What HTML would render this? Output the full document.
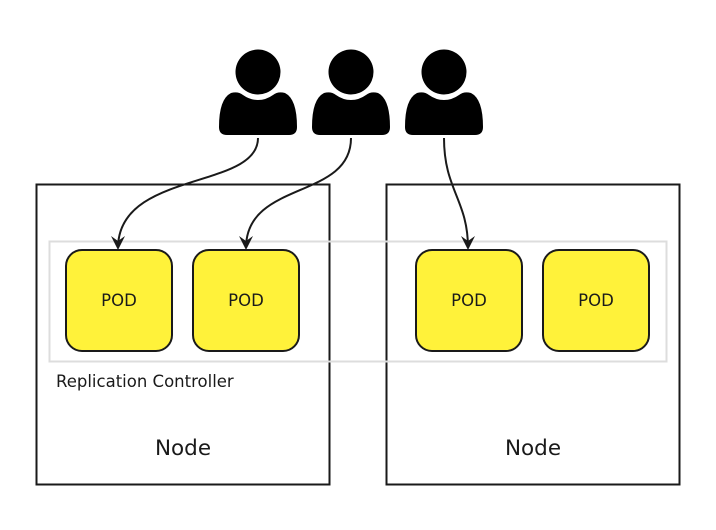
<!DOCTYPE html>
<html><head><style>body{margin:0;background:#fff}svg{display:block}</style></head><body>
<svg width="716" height="530" viewBox="0 0 716 530" xmlns="http://www.w3.org/2000/svg" font-family="DejaVu Sans, Liberation Sans, sans-serif">
<defs>
<g id="p">
<circle cx="0" cy="-5" r="22.5" fill="#000"/>
<path d="M-27,16 Q-20,14 -15,18 Q-8,23 0,23 Q8,23 15,18 Q20,14 27,16 Q39,22 39,50 Q39,58 31,58 L-31,58 Q-39,58 -39,50 Q-39,22 -27,16 Z" fill="#000"/>
</g>
<marker id="a" markerWidth="14" markerHeight="14" refX="12" refY="7" orient="auto" markerUnits="userSpaceOnUse" viewBox="0 0 14 14"><path d="M0,0 L5,7 L0,14 L14,7 Z" fill="#1a1a1a"/></marker>
</defs>
<rect x="36.5" y="184.5" width="293" height="300" fill="none" stroke="#1a1a1a" stroke-width="2"/>
<rect x="386.5" y="184.5" width="293" height="300" fill="none" stroke="#1a1a1a" stroke-width="2"/>
<rect x="49.5" y="241.5" width="617" height="120" fill="none" stroke="#ddd" stroke-width="2"/>
<g fill="#fff23a" stroke="#1a1a1a" stroke-width="2">
<rect x="66" y="250" width="106" height="101" rx="16"/>
<rect x="193" y="250" width="106" height="101" rx="16"/>
<rect x="416" y="250" width="106" height="101" rx="16"/>
<rect x="543" y="250" width="106" height="101" rx="16"/>
</g>
<g font-size="16.5" fill="#1a1a1a" text-anchor="middle">
<text x="119" y="306">POD</text><text x="246" y="306">POD</text>
<text x="469" y="306">POD</text><text x="596" y="306">POD</text>
<text x="183" y="455" font-size="21.5">Node</text><text x="533" y="455" font-size="21.5">Node</text>
<text x="56" y="387" font-size="16.5" text-anchor="start">Replication Controller</text>
</g>
<use href="#p" x="258" y="77"/><use href="#p" x="351" y="77"/><use href="#p" x="444" y="77"/>
<g fill="none" stroke="#1a1a1a" stroke-width="2">
<path d="M258,138 C258,190 118,170 118,248" marker-end="url(#a)"/>
<path d="M351,138 C351,200 246,180 246,248" marker-end="url(#a)"/>
<path d="M444,138 C444,190 468,200 468,248" marker-end="url(#a)"/>
</g>
</svg>
</body></html>
